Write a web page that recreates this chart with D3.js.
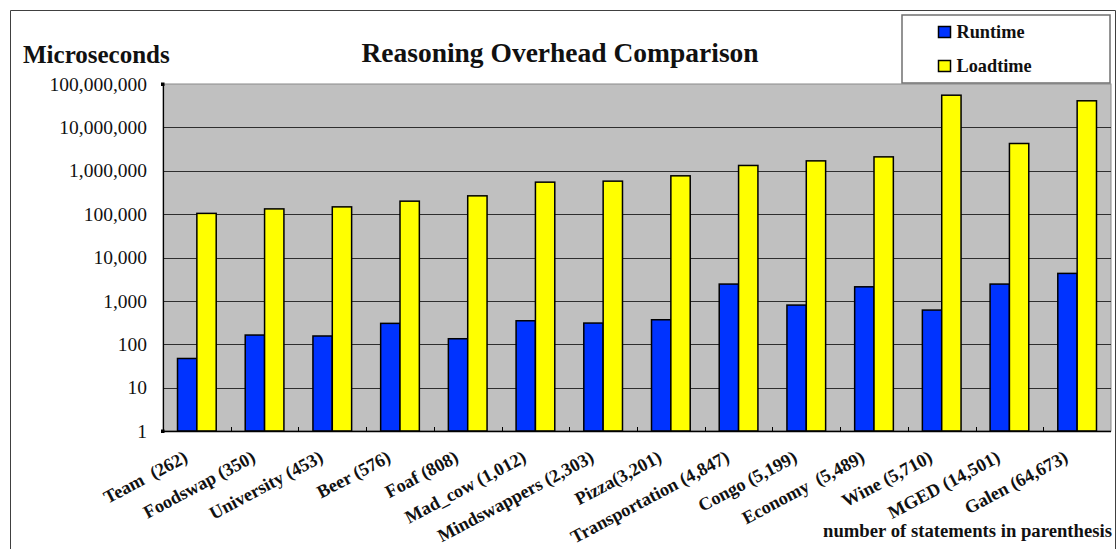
<!DOCTYPE html>
<html>
<head>
<meta charset="utf-8">
<script src="https://cdn.jsdelivr.net/npm/d3@7"></script>
<style>
  html, body { margin: 0; padding: 0; background: #ffffff; }
  svg { display: block; }
  text { font-family: "Liberation Serif", "Times New Roman", serif; fill: #111; }
</style>
</head>
<body>
<svg id="chart" width="1117" height="549"></svg>
<script>
// Ontologies, with the number of statements in parenthesis
const categories = [
  "Team  (262)", "Foodswap (350)", "University (453)", "Beer (576)", "Foaf (808)",
  "Mad_cow (1,012)", "Mindswappers (2,303)", "Pizza(3,201)", "Transportation (4,847)",
  "Congo (5,199)", "Economy  (5,489)", "Wine (5,710)", "MGED (14,501)", "Galen (64,673)"
];
const seriesNames = ["Runtime", "Loadtime"];
const seriesColors = ["#0033ff", "#ffff00"];
// microseconds
const runtime = [47, 163, 155, 303, 134, 348, 308, 367, 2440, 800, 2110, 614, 2440, 4300];
const loadtime = [104000, 132000, 147000, 199000, 264000, 546000, 576000, 764000,
  1324000, 1690000, 2090000, 55200000, 4250000, 41000000];
const yTicks = [1, 10, 100, 1000, 10000, 100000, 1000000, 10000000, 100000000];

const svg = d3.select("#chart");
const plot = { left: 163, right: 1111, top: 84, bottom: 431 };

// outer chart border
svg.append("path")
  .attr("d", `M10.5,560 V10.5 H1115.5 V560`)
  .attr("fill", "none").attr("stroke", "#404040").attr("stroke-width", 1);

const x = d3.scaleBand().domain(categories).range([plot.left, plot.right]).padding(0);
// two bars per group, gap between groups = 1.5 bar widths
const xs = d3.scaleBand().domain(seriesNames).range([0, x.bandwidth()])
  .paddingInner(0).paddingOuter(0.75);
const y = d3.scaleLog().domain([1, 1e8]).range([plot.bottom, plot.top]);

// plot area
svg.append("rect")
  .attr("x", plot.left).attr("y", plot.top)
  .attr("width", plot.right - plot.left).attr("height", plot.bottom - plot.top)
  .attr("fill", "#c0c0c0").attr("stroke", "#8a8a8a").attr("stroke-width", 1);

// gridlines
svg.append("g")
  .selectAll("line").data(yTicks.slice(1, -1)).join("line")
  .attr("x1", plot.left).attr("x2", plot.right)
  .attr("y1", d => Math.round(y(d)) + 0.5).attr("y2", d => Math.round(y(d)) + 0.5)
  .attr("stroke", "#2e2e2e").attr("stroke-width", 1);

// bars
const rows = categories.map((c, i) => ({ cat: c, vals: [runtime[i], loadtime[i]] }));
const g = svg.append("g").selectAll("g").data(rows).join("g")
  .attr("transform", d => `translate(${x(d.cat)},0)`);
g.selectAll("rect").data(d => d.vals.map((v, k) => ({ v, k }))).join("rect")
  .attr("x", d => xs(seriesNames[d.k]))
  .attr("width", xs.bandwidth())
  .attr("y", d => y(d.v))
  .attr("height", d => plot.bottom - y(d.v))
  .attr("fill", d => seriesColors[d.k])
  .attr("stroke", "#000").attr("stroke-width", 1.5);

// axis lines
svg.append("line").attr("x1", plot.left + 0.5).attr("x2", plot.left + 0.5)
  .attr("y1", plot.top).attr("y2", plot.bottom).attr("stroke", "#000").attr("stroke-width", 1.2);
svg.append("line").attr("x1", plot.left).attr("x2", plot.right)
  .attr("y1", plot.bottom + 0.5).attr("y2", plot.bottom + 0.5)
  .attr("stroke", "#000").attr("stroke-width", 1.5);
// inner tick marks between groups
svg.append("g").selectAll("line").data(categories.slice(1)).join("line")
  .attr("x1", d => Math.round(x(d)) + 0.5).attr("x2", d => Math.round(x(d)) + 0.5)
  .attr("y1", plot.bottom).attr("y2", plot.bottom - 4)
  .attr("stroke", "#000").attr("stroke-width", 1);
// small handles at axis ends
svg.append("g").selectAll("rect").data([1e8, 1]).join("rect")
  .attr("x", plot.left - 2).attr("y", d => y(d) - 1.5).attr("width", 3.5).attr("height", 3.5)
  .attr("fill", "#000");

// y tick labels
const fmt = d3.format(",");
svg.append("g").selectAll("text").data(yTicks).join("text")
  .attr("x", 147).attr("y", d => y(d)).attr("dy", "0.34em")
  .attr("text-anchor", "end")
  .style("font-size", "19.5px")
  .text(d => fmt(d));

// x category labels
svg.append("g").selectAll("text").data(categories).join("text")
  .attr("transform", d => `translate(${x(d) + x.bandwidth() / 2 - 8},461) rotate(-28)`)
  .attr("text-anchor", "end")
  .style("font-size", "18.3px").style("font-weight", "bold").style("white-space", "pre")
  .text(d => d);

// titles
svg.append("text").attr("x", 560).attr("y", 61.5).attr("text-anchor", "middle")
  .style("font-size", "27.5px").style("font-weight", "bold")
  .text("Reasoning Overhead Comparison");
svg.append("text").attr("x", 23).attr("y", 62.5)
  .style("font-size", "25px").style("font-weight", "bold")
  .text("Microseconds");
svg.append("text").attr("x", 1112).attr("y", 537).attr("text-anchor", "end")
  .style("font-size", "18.7px").style("font-weight", "bold")
  .text("number of statements in parenthesis");

// legend
const lg = svg.append("g");
lg.append("rect").attr("x", 902).attr("y", 15).attr("width", 208).attr("height", 68)
  .attr("fill", "#fff").attr("stroke", "#707070").attr("stroke-width", 1.5);
const items = lg.selectAll("g").data(seriesNames).join("g")
  .attr("transform", (d, i) => `translate(0,${i * 34})`);
items.append("rect").attr("x", 938.5).attr("y", 26.5).attr("width", 12).attr("height", 11)
  .attr("fill", (d, i) => seriesColors[i]).attr("stroke", "#000").attr("stroke-width", 1.5);
items.append("text").attr("x", 956.5).attr("y", 37.5)
  .style("font-size", "18.3px").style("font-weight", "bold")
  .text(d => d);
</script>
</body>
</html>
